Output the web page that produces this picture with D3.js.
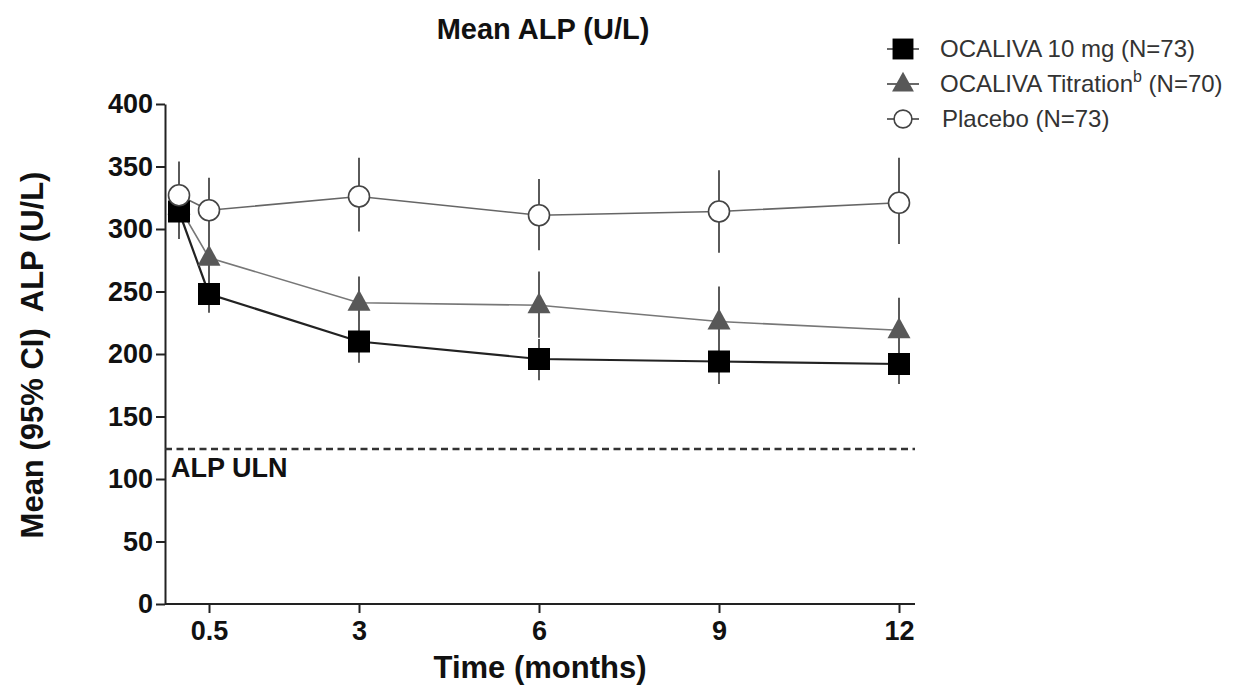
<!DOCTYPE html>
<html><head><meta charset="utf-8">
<script src="https://cdn.jsdelivr.net/npm/d3@7"></script>
<style>
html,body{margin:0;padding:0;background:#fff;}
svg{display:block;font-family:"Liberation Sans",Arial,Helvetica,sans-serif;}
</style></head>
<body><svg id="c" width="1240" height="688"></svg>
<script>
// ---- data ----
const months = [0, 0.5, 3, 6, 9, 12];
const xTicks = [0.5, 3, 6, 9, 12];
const yTicks = [0, 50, 100, 150, 200, 250, 300, 350, 400];
const ocaliva10 = [314, 248, 210, 196, 194, 192];
const ocaliva10Lo = [292, 233, 193, 179, 176, 176];
const ocaliva10Hi = [336, 263, 227, 212, 212, 209];
const titration = [318, 277, 241, 239, 226, 219];
const titrationLo = [296, 254, 220, 213, 198, 193];
const titrationHi = [340, 300, 262, 266, 254, 245];
const placebo = [327, 315, 326, 311, 314, 321];
const placeboLo = [299, 288, 298, 283, 281, 288];
const placeboHi = [354, 341, 357, 340, 347, 357];
const ulnValue = 124;
const seriesNames = ["OCALIVA 10 mg (N=73)", "OCALIVA Titration", "Placebo (N=73)"];

const svg = d3.select("#c");
const x = d3.scaleLinear().domain([0, 12]).range([179, 899]);
const y = d3.scaleLinear().domain([0, 400]).range([604, 104]);
const axisLeftX = 165, axisRightX = 915;

// axes
const gy = svg.append("g").attr("transform", `translate(${axisLeftX},0)`)
  .call(d3.axisLeft(y).tickValues(yTicks).tickSize(9).tickPadding(3).tickSizeOuter(0));
gy.select(".domain").attr("stroke", "#222").attr("stroke-width", 2);
gy.selectAll(".tick line").attr("stroke", "#222").attr("stroke-width", 2);
gy.selectAll(".tick text").attr("font-size", 27).attr("font-weight", "bold").attr("fill", "#111")
  .attr("font-family", "Liberation Sans, Arial, sans-serif");

const gx = svg.append("g").attr("transform", `translate(0,${y(0)})`)
  .call(d3.axisBottom(x).tickValues(xTicks).tickFormat(d3.format("")).tickSize(9).tickPadding(8).tickSizeOuter(0));
gx.select(".domain").attr("d", `M${axisLeftX},0H${axisRightX}`).attr("stroke", "#222").attr("stroke-width", 2);
gx.selectAll(".tick line").attr("stroke", "#222").attr("stroke-width", 2);
gx.selectAll(".tick text").attr("font-size", 27).attr("font-weight", "bold").attr("fill", "#111")
  .attr("font-family", "Liberation Sans, Arial, sans-serif");

// ULN dashed line
svg.append("line").attr("x1", axisLeftX).attr("x2", axisRightX)
  .attr("y1", y(ulnValue)).attr("y2", y(ulnValue))
  .attr("stroke", "#333").attr("stroke-width", 2.5).attr("stroke-dasharray", "7,4.5");
svg.append("text").attr("x", 171).attr("y", y(ulnValue) + 28)
  .attr("font-size", 27).attr("font-weight", "bold").attr("fill", "#111").text("ALP ULN");

// titles
svg.append("text").attr("x", 543).attr("y", 39).attr("text-anchor", "middle")
  .attr("font-size", 29).attr("font-weight", "bold").attr("fill", "#111").text("Mean ALP (U/L)");
svg.append("text").attr("x", 540).attr("y", 678).attr("text-anchor", "middle")
  .attr("font-size", 31).attr("font-weight", "bold").attr("fill", "#111").text("Time (months)");
svg.append("text").attr("transform", "translate(43,355) rotate(-90)").attr("text-anchor", "middle")
  .attr("font-size", 31).attr("font-weight", "bold").attr("fill", "#111")
  .attr("xml:space", "preserve").text("Mean (95% CI)  ALP (U/L)");

// series
const series = [
  {vals: titration, lo: titrationLo, hi: titrationHi, line: "#777", lw: 1.6, shape: "tri"},
  {vals: ocaliva10, lo: ocaliva10Lo, hi: ocaliva10Hi, line: "#222", lw: 2.2, shape: "sq"},
  {vals: placebo, lo: placeboLo, hi: placeboHi, line: "#666", lw: 1.6, shape: "circ"}
];

// error bars
series.forEach(s => {
  svg.append("g").selectAll("line").data(months).join("line")
    .attr("x1", d => x(d)).attr("x2", d => x(d))
    .attr("y1", (d, i) => y(s.lo[i])).attr("y2", (d, i) => y(s.hi[i]))
    .attr("stroke", "#5a5a5a").attr("stroke-width", 2);
});
// lines
series.forEach(s => {
  const ln = d3.line().x((d, i) => x(months[i])).y(d => y(d));
  svg.append("path").attr("d", ln(s.vals)).attr("fill", "none")
    .attr("stroke", s.line).attr("stroke-width", s.lw);
});

function drawMarker(g, shape, cx, cy, scale) {
  const k = scale || 1;
  if (shape === "sq") {
    g.append("rect").attr("x", cx - 11 * k).attr("y", cy - 11 * k).attr("width", 22 * k).attr("height", 22 * k)
      .attr("fill", "#000");
  } else if (shape === "tri") {
    const h = 21 * k, w = 23 * k;
    g.append("path").attr("d", `M${cx},${cy - h * 0.62}L${cx + w / 2},${cy + h * 0.38}L${cx - w / 2},${cy + h * 0.38}Z`)
      .attr("fill", "#585858");
  } else {
    g.append("circle").attr("cx", cx).attr("cy", cy).attr("r", 10.5 * k)
      .attr("fill", "#fff").attr("stroke", "#444").attr("stroke-width", 1.6);
  }
}
// markers
series.forEach(s => {
  const g = svg.append("g");
  s.vals.forEach((v, i) => drawMarker(g, s.shape, x(months[i]), y(v)));
});

// legend
const legendRows = [
  {name: seriesNames[0], shape: "sq", cy: 49},
  {name: seriesNames[1], shape: "tri", cy: 84, sup: "b", tail: " (N=70)"},
  {name: seriesNames[2], shape: "circ", cy: 119}
];
legendRows.forEach(r => {
  const g = svg.append("g");
  g.append("line").attr("x1", 887).attr("x2", 919).attr("y1", r.cy).attr("y2", r.cy)
    .attr("stroke", "#444").attr("stroke-width", 1.6);
  drawMarker(g, r.shape, 903, r.cy, r.shape === "circ" ? 0.85 : 0.95);
  const t = g.append("text").attr("x", r.shape === "circ" ? 942 : 940).attr("y", r.cy + 8)
    .attr("font-size", 24).attr("fill", "#333").text(r.name);
  if (r.sup) {
    t.append("tspan").attr("dy", -10).attr("font-size", 16).text(r.sup);
    t.append("tspan").attr("dy", 10).text(r.tail);
  }
});
</script></body></html>
